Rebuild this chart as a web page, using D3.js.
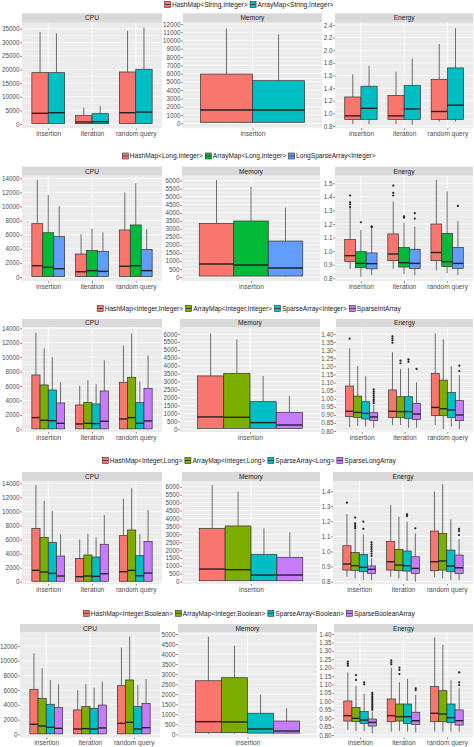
<!DOCTYPE html>
<html><head><meta charset="utf-8">
<script src="https://cdn.jsdelivr.net/npm/d3@7"></script>
<style>body{margin:0;background:#fff}svg{display:block}text{font-family:"Liberation Sans",Arial,Helvetica,sans-serif}</style>
</head><body><svg id="c" width="474" height="747"></svg>
<script>
// ---------------- DATA ----------------
const categories = ["insertion", "iteration", "random query"];
const memCategories = ["insertion"];
const panelNames = ["CPU", "Memory", "Energy"];

const series1 = ["HashMap<String,Integer>", "ArrayMap<String,Integer>"];
const series2 = ["HashMap<Long,Integer>", "ArrayMap<Long,Integer>", "LongSparseArray<Integer>"];
const series3 = ["HashMap<Integer,Integer>", "ArrayMap<Integer,Integer>", "SparseArray<Integer>", "SparseIntArray"];
const series4 = ["HashMap<Integer,Long>", "ArrayMap<Integer,Long>", "SparseArray<Long>", "SparseLongArray"];
const series5 = ["HashMap<Integer,Boolean>", "ArrayMap<Integer,Boolean>", "SparseArray<Boolean>", "SparseBooleanArray"];

// each box: [lower whisker, q1, median, q3, upper whisker]; indexed [category][series]
const cpu1 = [
  [[0,150,3930,18850,33800],[0,150,4150,18850,33300]],
  [[0,100,730,3050,6000],[0,100,850,3800,6600]],
  [[0,150,4150,19100,34200],[0,150,4400,20100,35400]]
];
const mem1 = [[[60,120,1600,5950,11470],[60,120,1600,5150,10750]]];
const energy1 = [
  [[0.83,0.905,0.96,1.26,1.62],[0.83,0.905,1.08,1.43,1.755]],
  [[0.83,0.905,0.96,1.285,1.66],[0.82,0.905,1.07,1.44,1.866]],
  [[0.87,0.905,1.03,1.54,2.10],[0.87,0.905,1.13,1.72,2.35]]
];
const out1 = [[[],[]],[[],[]],[[],[]]];

const cpu2 = [
  [[0,60,1600,7560,13760],[0,60,1370,6280,11630],[0,60,1180,5720,10070]],
  [[0,60,750,3260,6050],[0,60,900,3780,6850],[0,60,800,3640,6340]],
  [[0,60,1520,6670,12000],[0,60,1600,7380,13290],[0,60,900,3920,6760]]
];
const mem2 = [[[30,60,810,3340,6040],[30,60,750,3490,5630],[30,60,560,2240,4320]]];
const energy2 = [
  [[0.87,0.923,0.967,1.085,1.316],[0.81,0.878,0.91,0.996,1.156],[0.824,0.87,0.908,0.987,1.175]],
  [[0.87,0.93,0.979,1.127,1.365],[0.83,0.883,0.915,1.026,1.21],[0.82,0.873,0.91,1.014,1.18]],
  [[0.86,0.93,0.99,1.2,1.525],[0.837,0.886,0.923,1.131,1.44],[0.824,0.873,0.91,1.028,1.222]]
];
const out2 = [
  [[1.41,1.36,1.345,1.325],[1.213],[1.182,1.178]],
  [[1.483,1.43,1.41],[1.257,1.247],[1.28,1.24]],
  [[],[],[1.333]]
];

const cpu3 = [
  [[0,60,1620,7530,13400],[0,60,1250,6150,11230],[0,60,1200,5450,9980],[0,60,830,3650,6520]],
  [[0,60,740,3370,6050],[0,60,830,3740,6790],[0,60,790,3510,6240],[0,60,1110,5310,9570]],
  [[0,60,1430,6520,11600],[0,60,1620,7210,13260],[0,60,830,3700,6610],[0,60,1160,5680,10210]]
];
const mem3 = [[[30,60,780,3360,6040],[30,60,755,3520,5660],[30,60,420,1740,3360],[30,60,270,1070,2100]]];
const energy3 = [
  [[0.823,0.889,0.922,1.078,1.311],[0.833,0.884,0.915,1.016,1.202],[0.827,0.874,0.909,0.981,1.138],[0.82,0.866,0.887,0.913,0.96]],
  [[0.837,0.884,0.922,1.054,1.287],[0.837,0.884,0.92,1.012,1.183],[0.82,0.878,0.92,1.012,1.188],[0.82,0.872,0.905,0.971,1.101]],
  [[0.837,0.895,0.946,1.157,1.404],[0.812,0.895,0.938,1.115,1.367],[0.827,0.884,0.93,1.039,1.202],[0.812,0.864,0.899,0.988,1.146]]
];
const out3 = [
  [[1.371],[],[],[1.058,1.045,1.033,1.02,1.008,0.996,0.985,0.972]],
  [[1.386,1.373,1.361,1.346],[1.235,1.219],[1.243,1.229],[1.184]],
  [[],[],[],[1.204,1.171]]
];

const cpu4 = [
  [[0,60,1610,7590,13760],[0,60,1380,6310,11530],[0,60,1190,5600,10060],[0,60,810,3650,6740]],
  [[0,60,710,3320,6030],[0,60,810,3800,6790],[0,60,760,3510,6310],[0,60,1140,5320,9490]],
  [[0,60,1420,6550,11770],[0,60,1610,7360,13290],[0,60,850,3700,6740],[0,60,1230,5700,10200]]
];
const mem4 = [[[30,60,800,3370,6100],[30,60,760,3520,5680],[30,60,420,1730,3370],[30,60,420,1540,3120]]];
const energy4 = [
  [[0.833,0.877,0.917,1.038,1.246],[0.822,0.875,0.906,0.994,1.142],[0.811,0.866,0.895,0.981,1.113],[0.811,0.855,0.882,0.904,0.955]],
  [[0.833,0.877,0.932,1.065,1.307],[0.822,0.873,0.91,1.014,1.23],[0.807,0.87,0.906,1.003,1.197],[0.8,0.855,0.888,0.965,1.12]],
  [[0.829,0.873,0.932,1.135,1.396],[0.822,0.877,0.937,1.12,1.444],[0.811,0.866,0.904,1.009,1.212],[0.811,0.855,0.892,0.976,1.082]]
];
const out4 = [
  [[1.323],[1.224,1.186,1.175,1.164,1.153],[1.197,1.149],[1.06,1.045,1.03,1.015,1.0,0.985,0.97]],
  [[],[],[1.246,1.235],[1.153]],
  [[],[],[],[1.149,1.135,1.109]]
];

const cpu5 = [
  [[0,60,1360,6110,11000],[0,60,1130,4890,8970],[0,60,950,4080,7380],[0,60,815,3620,6790]],
  [[0,60,720,3310,6020],[0,60,770,3760,6840],[0,60,720,3530,6340],[0,60,860,3980,7150]],
  [[0,60,1490,6610,11770],[0,60,1630,7380,13270],[0,60,720,3760,6700],[0,60,900,4210,7520]]
];
const mem5 = [[[30,80,630,2670,4870],[30,80,615,2820,4420],[30,60,265,1050,1990],[30,60,165,660,1300]]];
const energy5 = [
  [[0.83,0.883,0.915,1.002,1.172],[0.824,0.879,0.899,0.964,1.093],[0.824,0.869,0.889,0.939,1.044],[0.81,0.853,0.875,0.895,0.94]],
  [[0.82,0.879,0.915,1.014,1.2],[0.824,0.883,0.909,0.984,1.113],[0.82,0.869,0.909,0.984,1.133],[0.816,0.863,0.885,0.935,1.038]],
  [[0.82,0.879,0.929,1.087,1.38],[0.82,0.879,0.925,1.063,1.335],[0.82,0.873,0.903,0.984,1.127],[0.82,0.859,0.885,0.949,1.077]]
];
const out5 = [
  [[1.236,1.224,1.212],[1.156,1.127],[1.113,1.101],[1.05,1.04,1.03,1.02,1.01,1.0,0.99,0.98,0.97,0.96,0.95]],
  [[1.244,1.232,1.22],[1.2,1.186,1.162],[],[1.077,1.067]],
  [[],[],[],[1.172,1.113,1.097]]
];

// tick labels
const cpuTicks1 = [0,5000,10000,15000,20000,25000,30000,35000];
const memTicks1 = [0,1000,2000,3000,4000,5000,6000,7000,8000,9000,10000,11000,12000];
const energyTicks1 = [0.8,1.0,1.2,1.4,1.6,1.8,2.0,2.2,2.4];
const cpuTicks14k = [0,2000,4000,6000,8000,10000,12000,14000];
const cpuTicks12k = [0,2000,4000,6000,8000,10000,12000];
const memTicks6k = [0,500,1000,1500,2000,2500,3000,3500,4000,4500,5000,5500,6000];
const memTicks5k = [0,500,1000,1500,2000,2500,3000,3500,4000,4500,5000];
const energyTicks2 = [0.8,0.9,1.0,1.1,1.2,1.3,1.4,1.5];
const energyTicksFine = [0.80,0.85,0.90,0.95,1.00,1.05,1.10,1.15,1.20,1.25,1.30,1.35,1.40];
const energyTicks4 = [0.8,0.9,1.0,1.1,1.2,1.3,1.4];

// ---------------- STYLE / LAYOUT ----------------
const RED = "#F8766D", TEAL = "#00BFC4", GREEN = "#00BA38", BLUE = "#619CFF", OLIVE = "#7CAE00", PURPLE = "#C77CFF";
const colors1 = [RED, TEAL];
const colors2 = [RED, GREEN, BLUE];
const colors345 = [RED, OLIVE, TEAL, PURPLE];

const rows = [
  {series: series1, colors: colors1, data: [cpu1, mem1, energy1], out: out1,
   ticks: [cpuTicks1, memTicks1, energyTicks1], fmt: ["d","d",".1f"],
   legendY: 4.5, stripTop: 13.3, stripBot: 22.7, panelBot: 128.3,
   panels: [{x0:22,x1:162,cal:[0,124,35000,28.7]},{x0:183,x1:322,cal:[0,123.3,12000,24]},{x0:335,x1:473.3,cal:[0.8,126,2.4,25]}]},
  {series: series2, colors: colors2, data: [cpu2, mem2, energy2], out: out2,
   ticks: [cpuTicks14k, memTicks6k, energyTicks2], fmt: ["d","d",".1f"],
   legendY: 156, stripTop: 166.7, stripBot: 175.7, panelBot: 281,
   panels: [{x0:22,x1:162,cal:[0,277,14000,178.3]},{x0:182,x1:320,cal:[0,277,6000,180.7]},{x0:335,x1:473,cal:[0.8,278.3,1.5,183.3]}]},
  {series: series3, colors: colors345, data: [cpu3, mem3, energy3], out: out3,
   ticks: [cpuTicks14k, memTicks6k, energyTicksFine], fmt: ["d","d",".2f"],
   legendY: 308.5, stripTop: 319, stripBot: 327.3, panelBot: 432,
   panels: [{x0:22,x1:162,cal:[0,429.3,14000,328.3]},{x0:180,x1:320,cal:[0,429.3,6000,334]},{x0:336,x1:473,cal:[0.8,431,1.4,334]}]},
  {series: series4, colors: colors345, data: [cpu4, mem4, energy4], out: out4,
   ticks: [cpuTicks14k, memTicks6k, energyTicks4], fmt: ["d","d",".1f"],
   legendY: 460.5, stripTop: 472, stripBot: 481, panelBot: 584,
   panels: [{x0:22,x1:162,cal:[0,581.7,14000,483.3]},{x0:182,x1:320,cal:[0,581.7,6000,486.7]},{x0:333,x1:473,cal:[0.8,581.7,1.4,491]}]},
  {series: series5, colors: colors345, data: [cpu5, mem5, energy5], out: out5,
   ticks: [cpuTicks12k, memTicks5k, energyTicksFine], fmt: ["d","d",".2f"],
   legendY: 613.3, stripTop: 624, stripBot: 632.5, panelBot: 737.5,
   panels: [{x0:20,x1:160,cal:[0,734.3,12000,646]},{x0:178,x1:317,cal:[0,734.3,5000,634]},{x0:334,x1:473,cal:[0.8,735,1.4,634]}]}
];

// ---------------- DRAW ----------------
const svg = d3.select("#c");
const INK = "#333333";

rows.forEach((row, ri) => {
  const gRow = svg.append("g");
  // legend
  const lg = gRow.append("g");
  let xcur = 0;
  row.series.forEach((s, si) => {
    const it = lg.append("g").attr("transform", `translate(${xcur},0)`);
    it.append("rect").attr("x", 0).attr("y", -3).attr("width", 6).attr("height", 6)
      .attr("fill", row.colors[si]).attr("stroke", INK).attr("stroke-width", 0.6);
    it.append("line").attr("x1", 0).attr("x2", 6).attr("y1", 0).attr("y2", 0).attr("stroke", INK).attr("stroke-width", 0.8);
    const t = it.append("text").attr("x", 7.5).attr("y", 0).attr("dy", "0.35em")
      .attr("font-size", 6.6).attr("fill", "#1a1a1a").text(s);
    xcur += 7.5 + t.node().getComputedTextLength() + 2.5;
  });
  lg.attr("transform", `translate(${249 - (xcur - 2.5) / 2},${row.legendY})`);

  row.panels.forEach((P, pi) => {
    const g = gRow.append("g");
    const cats = pi === 1 ? memCategories : categories;
    const y = d3.scaleLinear().domain([P.cal[0], P.cal[2]]).range([P.cal[1], P.cal[3]]);
    const x = d3.scalePoint().domain(cats).range([P.x0, P.x1]).padding(0.6);
    const groupW = x.step() * (pi === 1 ? 0.9 : 0.75);
    const top = row.stripBot, bot = row.panelBot;

    // strip
    g.append("rect").attr("x", P.x0).attr("y", row.stripTop).attr("width", P.x1 - P.x0)
      .attr("height", row.stripBot - row.stripTop).attr("fill", "#D9D9D9");
    g.append("text").attr("x", (P.x0 + P.x1) / 2).attr("y", (row.stripTop + row.stripBot) / 2)
      .attr("dy", "0.35em").attr("text-anchor", "middle").attr("font-size", 6.6).attr("fill", "#1a1a1a")
      .text(panelNames[pi]);

    // panel background
    g.append("rect").attr("x", P.x0).attr("y", top).attr("width", P.x1 - P.x0).attr("height", bot - top).attr("fill", "#EBEBEB");

    // grid
    const ticks = row.ticks[pi];
    const inRange = v => y(v) >= top && y(v) <= bot;
    const minors = [];
    const stepT = ticks[1] - ticks[0];
    for (let i = -1; i < ticks.length; i++) {
      const v = ticks[0] + stepT * (i + 0.5);
      if (inRange(v)) minors.push(v);
    }
    g.selectAll(null).data(minors).join("line")
      .attr("x1", P.x0).attr("x2", P.x1).attr("y1", d => y(d)).attr("y2", d => y(d))
      .attr("stroke", "#fff").attr("stroke-width", 0.4);
    g.selectAll(null).data(ticks.filter(inRange)).join("line")
      .attr("x1", P.x0).attr("x2", P.x1).attr("y1", d => y(d)).attr("y2", d => y(d))
      .attr("stroke", "#fff").attr("stroke-width", 0.8);
    g.selectAll(null).data(cats).join("line")
      .attr("x1", d => x(d)).attr("x2", d => x(d)).attr("y1", top).attr("y2", bot)
      .attr("stroke", "#fff").attr("stroke-width", 0.8);

    // boxes
    const data = row.data[pi];
    cats.forEach((c, ci) => {
      const xs = d3.scaleBand().domain(row.series).range([x(c) - groupW / 2, x(c) + groupW / 2]).padding(0);
      row.series.forEach((s, si) => {
        const b = data[ci][si];
        const bx = xs(s), bw = xs.bandwidth(), cx = bx + bw / 2;
        g.append("line").attr("x1", cx).attr("x2", cx).attr("y1", y(b[3])).attr("y2", y(b[4]))
          .attr("stroke", INK).attr("stroke-width", 0.7);
        g.append("line").attr("x1", cx).attr("x2", cx).attr("y1", y(b[1])).attr("y2", y(b[0]))
          .attr("stroke", INK).attr("stroke-width", 0.7);
        g.append("rect").attr("x", bx).attr("y", y(b[3])).attr("width", bw).attr("height", y(b[1]) - y(b[3]))
          .attr("fill", row.colors[si]).attr("stroke", INK).attr("stroke-width", 0.7);
        g.append("line").attr("x1", bx).attr("x2", bx + bw).attr("y1", y(b[2])).attr("y2", y(b[2]))
          .attr("stroke", "#222").attr("stroke-width", 1.4);
        if (pi === 2) {
          const o = row.out[ci][si];
          g.selectAll(null).data(o).join("circle").attr("cx", cx).attr("cy", d => y(d)).attr("r", 1.1).attr("fill", "#222");
        }
      });
    });

    // axes
    const fmt = d3.format(row.fmt[pi]);
    const ay = g.append("g").attr("transform", `translate(${P.x0},0)`)
      .call(d3.axisLeft(y).tickValues(ticks).tickFormat(fmt).tickSize(1.8).tickPadding(0.8));
    ay.select(".domain").remove();
    ay.selectAll("line").attr("stroke", INK).attr("stroke-width", 0.6);
    ay.selectAll("text").attr("font-size", 6.3).attr("fill", "#4D4D4D").attr("font-family", null);
    ay.attr("font-family", null);

    const ax = g.append("g").attr("transform", `translate(0,${bot})`)
      .call(d3.axisBottom(x).tickSize(1.8).tickPadding(1.5));
    ax.select(".domain").remove();
    ax.selectAll("line").attr("stroke", INK).attr("stroke-width", 0.6);
    ax.selectAll("text").attr("font-size", 6.6).attr("fill", "#4D4D4D");
    ax.attr("font-family", null);
  });
});
</script></body></html>
